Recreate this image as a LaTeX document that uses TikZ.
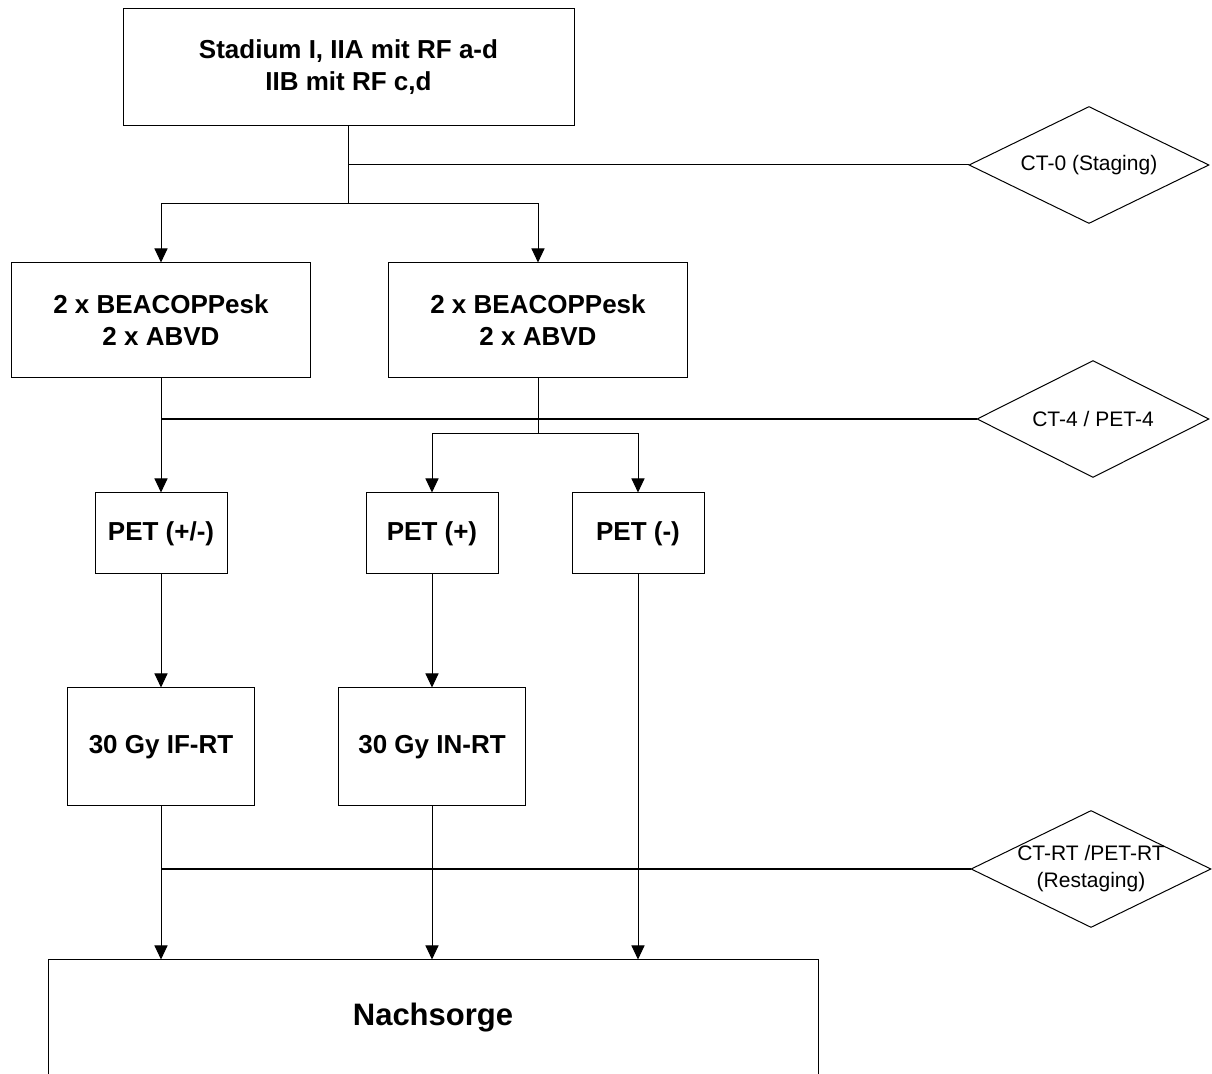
\documentclass[tikz,border=0pt]{standalone}
\usepackage{fontspec}
\setmainfont{Liberation Sans}
\usetikzlibrary{shapes.geometric,arrows.meta}
\begin{document}
\begin{tikzpicture}[x=0.5pt,y=-0.5pt,
  box/.style={draw,line width=0.5pt,inner sep=0pt,align=center,font=\fontsize{13}{16}\selectfont\bfseries},
  check/.style={draw,diamond,line width=0.5pt,inner sep=0pt,minimum width=120pt,minimum height=58.5pt},
  checktext/.style={align=center,inner sep=0pt,font=\fontsize{10.5}{13.5}\selectfont},
  link/.style={line width=0.5pt},
  bar/.style={line width=1pt},
  arr/.style={line width=0.5pt,-{Triangle[width=6.5pt,length=7pt]}}]
\clip (0,0) rectangle (1212,1074);
% boxes
\node[box,minimum width=225.5pt,minimum height=58.5pt] (stage) at (348.5,67.5) {Stadium I, IIA mit RF a-d\\IIB mit RF c,d};
\node[box,minimum width=149.5pt,minimum height=57.5pt] (chemoA) at (161,320.5) {2 x BEACOPPesk\\2 x ABVD};
\node[box,minimum width=149.5pt,minimum height=57.5pt] (chemoB) at (538,320.5) {2 x BEACOPPesk\\2 x ABVD};
\node[box,minimum width=66pt,minimum height=40.5pt] (petA) at (161,533.5) {PET (+/-)};
\node[box,minimum width=66pt,minimum height=40.5pt] (petB) at (432,533.5) {PET (+)};
\node[box,minimum width=66pt,minimum height=40.5pt] (petC) at (638,533.5) {PET (-)};
\node[box,minimum width=93.5pt,minimum height=59pt] (rtA) at (161,747) {30 Gy IF-RT};
\node[box,minimum width=93.5pt,minimum height=59pt] (rtB) at (432,747) {30 Gy IN-RT};
\node[box,minimum width=385pt,minimum height=58pt,font=\fontsize{15.5}{18}\selectfont\bfseries] (follow) at (433,1018) {Nachsorge};
% diamonds
\node[check,label={[checktext]center:CT-0 (Staging)}] (d0) at (1089,165) {};
\node[check,minimum width=116pt,label={[checktext]center:CT-4 / PET-4}] (d4) at (1093,419) {};
\node[check,label={[checktext]center:CT-RT /PET-RT\\(Restaging)}] (d8) at (1091,869) {};
% connectors
\coordinate (fork0) at (348.5,204);
\coordinate (fork1) at (538,434);
\draw[link] (stage.south) -- (fork0);
\draw[link] (stage.south |- d0.west) -- (d0.west);
\draw[arr] (fork0) -| (chemoA.north);
\draw[arr] (fork0) -| (chemoB.north);
\draw[arr] (chemoA.south) -- (petA.north);
\draw[bar] (chemoA.south |- d4.west) -- (d4.west);
\draw[link] (chemoB.south) -- (fork1);
\draw[arr] (fork1) -| (petB.north);
\draw[arr] (fork1) -| (petC.north);
\draw[arr] (petA.south) -- (rtA.north);
\draw[arr] (petB.south) -- (rtB.north);
\draw[arr] (petC.south) -- (petC.south |- follow.north);
\draw[arr] (rtA.south) -- (rtA.south |- follow.north);
\draw[arr] (rtB.south) -- (rtB.south |- follow.north);
\draw[bar] (rtA.south |- d8.west) -- (d8.west);
\end{tikzpicture}
\end{document}
